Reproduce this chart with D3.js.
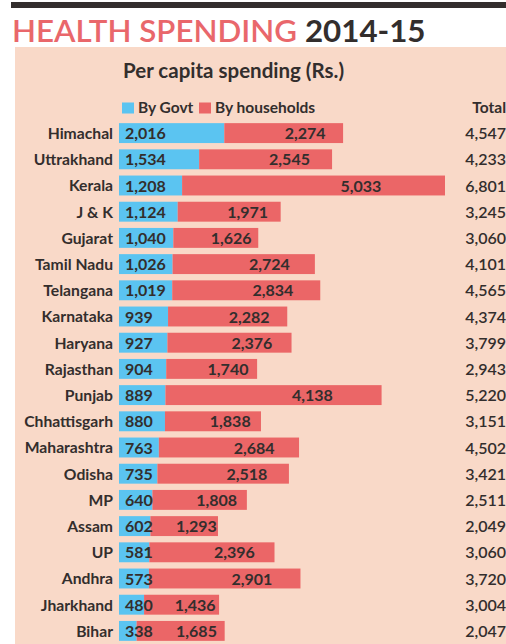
<!DOCTYPE html>
<html>
<head>
<meta charset="utf-8">
<script src="https://cdn.jsdelivr.net/npm/d3@7"></script>
<style>
  body { margin: 0; background: #fff; }
  svg { display: block; font-family: Lato, "Open Sans", sans-serif; }
</style>
</head>
<body>
<div id="vis"></div>
<script>
var states = ["Himachal", "Uttrakhand", "Kerala", "J & K", "Gujarat", "Tamil Nadu", "Telangana",
  "Karnataka", "Haryana", "Rajasthan", "Punjab", "Chhattisgarh", "Maharashtra", "Odisha",
  "MP", "Assam", "UP", "Andhra", "Jharkhand", "Bihar"];
var govt = [2016, 1534, 1208, 1124, 1040, 1026, 1019, 939, 927, 904, 889, 880, 763, 735, 640, 602, 581, 573, 480, 338];
var households = [2274, 2545, 5033, 1971, 1626, 2724, 2834, 2282, 2376, 1740, 4138, 1838, 2684, 2518, 1808, 1293, 2396, 2901, 1436, 1685];
var totals = [4547, 4233, 6801, 3245, 3060, 4101, 4565, 4374, 3799, 2943, 5220, 3151, 4502, 3421, 2511, 2049, 3060, 3720, 3004, 2047];
var seriesNames = ["By Govt", "By households"];

(function(){
  var width = 506, height = 644;
  var blue = "#5bc4f1", red = "#eb6667", ink = "#332e2d";
  var fmt = d3.format(",");

  var rows = states.map(function(s, i) {
    return { state: s, govt: govt[i], hh: households[i], total: totals[i] };
  });

  var svg = d3.select("#vis").append("svg")
    .attr("width", width)
    .attr("height", height);

  // top rule and title
  svg.append("rect").attr("x", 11).attr("y", 2).attr("width", width - 11).attr("height", 6).attr("fill", ink);
  var title = svg.append("text").attr("x", 12).attr("y", 42).style("font-size", "31.3px");
  title.append("tspan").attr("fill", "#e9676b").style("font-weight", 600).text("HEALTH SPENDING ");
  title.append("tspan").attr("fill", ink).style("font-weight", 700).text("2014-15");

  // panel
  svg.append("rect").attr("x", 15).attr("y", 47).attr("width", width - 15).attr("height", height - 47).attr("fill", "#f9d9c8");

  svg.append("text").attr("x", 123).attr("y", 78)
    .attr("fill", ink).style("font-size", "20.5px").style("font-weight", 700)
    .text("Per capita spending (Rs.)");

  // legend
  var legend = svg.selectAll(".legend").data(seriesNames).enter().append("g")
    .attr("transform", function(d, i) { return "translate(" + (i === 0 ? 122 : 199) + ",102)"; });
  legend.append("rect").attr("width", 12).attr("height", 11).attr("y", 0.5)
    .attr("fill", function(d, i) { return i === 0 ? blue : red; });
  legend.append("text").attr("x", 16).attr("y", 11)
    .attr("fill", ink).style("font-size", "15.5px").style("font-weight", 700)
    .text(function(d) { return d; });

  svg.append("text").attr("x", 506).attr("y", 113).attr("text-anchor", "end")
    .attr("fill", ink).style("font-size", "15.5px").style("font-weight", 700).text("Total");

  var y = d3.scaleBand()
    .domain(states)
    .range([120, 644])
    .paddingInner(0.24)
    .paddingOuter(0.12);

  var x = d3.scaleLinear()
    .domain([0, d3.max(rows, function(d) { return d.govt + d.hh; })])
    .range([119, 445]);

  var g = svg.selectAll(".row").data(rows).enter().append("g")
    .attr("class", "row")
    .attr("transform", function(d) { return "translate(0," + y(d.state) + ")"; });

  var bw = y.bandwidth();

  g.append("rect").attr("x", x(0)).attr("height", bw)
    .attr("width", function(d) { return x(d.govt) - x(0); })
    .attr("fill", blue);
  g.append("rect").attr("x", function(d) { return x(d.govt); }).attr("height", bw)
    .attr("width", function(d) { return x(d.govt + d.hh) - x(d.govt); })
    .attr("fill", red);

  g.append("text").attr("x", 113).attr("y", bw / 2 + 6).attr("text-anchor", "end")
    .attr("fill", ink).style("font-size", "15.7px").style("font-weight", 700)
    .text(function(d) { return d.state; });

  g.append("text").attr("x", 125).attr("y", bw / 2 + 6)
    .attr("fill", ink).style("font-size", "16px").style("font-weight", 700)
    .text(function(d) { return fmt(d.govt); });

  g.append("text")
    .attr("x", function(d) { return x(d.govt) + 0.68 * (x(d.govt + d.hh) - x(d.govt)); })
    .attr("y", bw / 2 + 6).attr("text-anchor", "middle")
    .attr("fill", ink).style("font-size", "16px").style("font-weight", 700)
    .text(function(d) { return fmt(d.hh); });

  g.append("text").attr("x", 506).attr("y", bw / 2 + 6).attr("text-anchor", "end")
    .attr("fill", ink).style("font-size", "16px").style("font-weight", 600)
    .text(function(d) { return fmt(d.total); });
})();
</script>
</body>
</html>
